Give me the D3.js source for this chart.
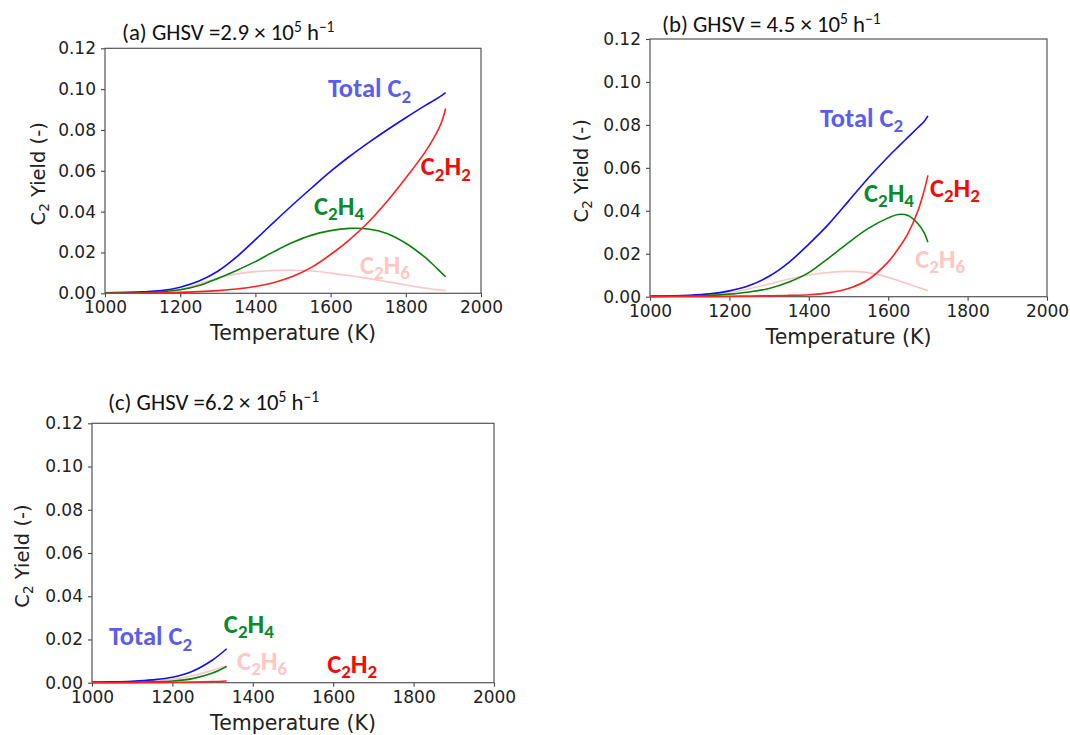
<!DOCTYPE html>
<html><head><meta charset="utf-8">
<script src="https://cdn.jsdelivr.net/npm/d3@7/dist/d3.min.js"></script>
<style>body{margin:0;background:#fff} svg{display:block}</style>
</head><body>
<svg id="chart" width="1070" height="735"></svg>
<script>
// ---------- data ----------
const xTicks = [1000, 1200, 1400, 1600, 1800, 2000];
const yTicks = [0, 0.02, 0.04, 0.06, 0.08, 0.10, 0.12];

// (a) GHSV = 2.9e5 1/h
const tempA  = [1000, 1100, 1150, 1200, 1250, 1300, 1350, 1400, 1450, 1500, 1550, 1600, 1650, 1700, 1750, 1800, 1850, 1875, 1895, 1906];
const totalA = [0.0003, 0.0007, 0.0013, 0.0030, 0.0060, 0.0108, 0.0178, 0.0263, 0.0350, 0.0435, 0.0517, 0.0597, 0.0670, 0.0737, 0.0800, 0.0860, 0.0918, 0.0945, 0.0968, 0.0983];
const c2h4A  = [0.0001, 0.0003, 0.0007, 0.0017, 0.0038, 0.0073, 0.0112, 0.0155, 0.0205, 0.0250, 0.0285, 0.0307, 0.0318, 0.0315, 0.0293, 0.0245, 0.0178, 0.0136, 0.0100, 0.0081];
const c2h2A  = [0.0000, 0.0001, 0.0002, 0.0005, 0.0008, 0.0013, 0.0021, 0.0033, 0.0053, 0.0083, 0.0128, 0.0190, 0.0262, 0.0348, 0.0450, 0.0565, 0.0688, 0.0762, 0.0838, 0.0905];
const c2h6A  = [0.0002, 0.0006, 0.0010, 0.0018, 0.0045, 0.0075, 0.0095, 0.0106, 0.0112, 0.0113, 0.0109, 0.0099, 0.0087, 0.0073, 0.0057, 0.0041, 0.0026, 0.0020, 0.0015, 0.0013];

// (b) GHSV = 4.5e5 1/h
const tempB  = [1000, 1100, 1150, 1200, 1250, 1300, 1350, 1400, 1450, 1500, 1550, 1600, 1625, 1650, 1675, 1690, 1700];
const totalB = [0.0003, 0.0007, 0.0013, 0.0027, 0.0052, 0.0095, 0.0160, 0.0245, 0.0338, 0.0445, 0.0553, 0.0652, 0.0698, 0.0743, 0.0788, 0.0815, 0.0842];
const c2h4B  = [0.0001, 0.0003, 0.0006, 0.0012, 0.0022, 0.0038, 0.0068, 0.0112, 0.0180, 0.0252, 0.0318, 0.0367, 0.0383, 0.0378, 0.0340, 0.0300, 0.0254];
const c2h2B  = [0.0000, 0.0001, 0.0001, 0.0002, 0.0003, 0.0004, 0.0006, 0.0009, 0.0018, 0.0038, 0.0080, 0.0162, 0.0222, 0.0295, 0.0400, 0.0490, 0.0565];
const c2h6B  = [0.0002, 0.0006, 0.0011, 0.0020, 0.0037, 0.0059, 0.0082, 0.0101, 0.0113, 0.0118, 0.0112, 0.0090, 0.0075, 0.0060, 0.0044, 0.0035, 0.0028];

// (c) GHSV = 6.2e5 1/h
const tempC  = [1000, 1050, 1100, 1150, 1200, 1250, 1300, 1335];
const totalC = [0.0003, 0.0004, 0.0007, 0.0013, 0.0025, 0.0053, 0.0105, 0.0157];
const c2h4C  = [0.0001, 0.0001, 0.0002, 0.0004, 0.0008, 0.0019, 0.0045, 0.0075];
const c2h2C  = [0.0000, 0.0000, 0.0000, 0.0001, 0.0002, 0.0003, 0.0005, 0.0008];
const c2h6C  = [0.0002, 0.0003, 0.0005, 0.0009, 0.0016, 0.0032, 0.0058, 0.0078];

const seriesNames = ["C2H6", "Total C2", "C2H4", "C2H2"];

// ---------- layout / style ----------
const lineColor = {"Total C2": "#1010f5", "C2H4": "#0a820a", "C2H2": "#ff2020", "C2H6": "#ffc4c4"};
const textColor = {"Total C2": "#5a5cf2", "C2H4": "#098a2c", "C2H2": "#f50a0a", "C2H6": "#ffc6c6"};
const labelParts = {
  "Total C2": [["Total C", 0], ["2", 1]],
  "C2H4": [["C", 0], ["2", 1], ["H", 0], ["4", 1]],
  "C2H2": [["C", 0], ["2", 1], ["H", 0], ["2", 1]],
  "C2H6": [["C", 0], ["2", 1], ["H", 0], ["6", 1]]
};

const panels = [
  { id: "a", mant: "(a) GHSV =2.9 × 10", left: 105, right: 481, top: 48.3, bottom: 293.3,
    titleX: 122, titleY: 40, ylabX: 38,
    temp: tempA, vals: {"Total C2": totalA, "C2H4": c2h4A, "C2H2": c2h2A, "C2H6": c2h6A},
    labels: {"Total C2": [1593, 0.0961], "C2H2": [1840, 0.0579], "C2H4": [1556, 0.0384], "C2H6": [1678, 0.0095]} },
  { id: "b", mant: "(b) GHSV = 4.5 × 10", left: 650, right: 1047, top: 39, bottom: 296.7,
    titleX: 662, titleY: 31.5, ylabX: 581,
    temp: tempB, vals: {"Total C2": totalB, "C2H4": c2h4B, "C2H2": c2h2B, "C2H6": c2h6B},
    labels: {"Total C2": [1428, 0.0792], "C2H4": [1539, 0.0442], "C2H2": [1705, 0.0466], "C2H6": [1668, 0.0134]} },
  { id: "c", mant: "(c) GHSV =6.2 × 10", left: 92, right: 494, top: 423.3, bottom: 682.7,
    titleX: 108, titleY: 410, ylabX: 22,
    temp: tempC, vals: {"Total C2": totalC, "C2H4": c2h4C, "C2H2": c2h2C, "C2H6": c2h6C},
    labels: {"Total C2": [1042, 0.0174], "C2H4": [1328, 0.0231], "C2H2": [1585, 0.0045], "C2H6": [1361, 0.0059]} }
];

const svg = d3.select("#chart");
const tickFont = "DejaVu Sans";
const labFont = "Carlito";

panels.forEach(p => {
  const x = d3.scaleLinear().domain([1000, 2000]).range([p.left, p.right]);
  const y = d3.scaleLinear().domain([0, 0.12]).range([p.bottom, p.top]);
  const g = svg.append("g").attr("class", "panel-" + p.id);

  // axes
  const xa = g.append("g").attr("transform", `translate(0,${p.bottom})`)
    .call(d3.axisBottom(x).tickValues(xTicks).tickSize(4).tickPadding(4).tickFormat(d3.format("d")));
  const ya = g.append("g").attr("transform", `translate(${p.left},0)`)
    .call(d3.axisLeft(y).tickValues(yTicks).tickSize(4).tickPadding(5).tickFormat(d3.format(".2f")));
  [xa, ya].forEach(a => {
    a.attr("font-family", null).attr("font-size", 17);
    a.selectAll("text").style("font-family", tickFont).attr("fill", "#222");
    a.selectAll("line").attr("stroke", "#444").attr("stroke-width", 1.1);
    a.select(".domain").remove();
  });
  g.append("rect").attr("x", p.left).attr("y", p.top)
    .attr("width", p.right - p.left).attr("height", p.bottom - p.top)
    .attr("fill", "none").attr("stroke", "#555").attr("stroke-width", 1.2);

  // lines
  const line = d3.line().curve(d3.curveCatmullRom.alpha(0.5));
  seriesNames.forEach(name => {
    const vals = p.vals[name];
    const pts = p.temp.map((t, i) => [x(t), y(vals[i])]);
    g.append("path").attr("d", line(pts)).attr("fill", "none")
      .attr("stroke", lineColor[name]).attr("stroke-width", 1.6);
  });

  // series labels
  Object.keys(p.labels).forEach(name => {
    const [t, v] = p.labels[name];
    const txt = g.append("text").attr("x", x(t)).attr("y", y(v))
      .style("font-family", labFont).attr("font-weight", "bold")
      .attr("font-size", 26.5).attr("fill", textColor[name]);
    let shifted = false;
    labelParts[name].forEach(([s, sub]) => {
      const ts = txt.append("tspan").text(s);
      if (sub && !shifted) { ts.attr("dy", 5.5).attr("font-size", 19); shifted = true; }
      else if (sub) { ts.attr("font-size", 19); }
      else if (!sub && shifted) { ts.attr("dy", -5.5); shifted = false; }
    });
  });

  // title
  const tt = g.append("text").attr("x", p.titleX).attr("y", p.titleY)
    .style("font-family", labFont).attr("font-size", 22.8).attr("fill", "#111");
  tt.append("tspan").text(p.mant);
  tt.append("tspan").text("5").attr("font-size", 15.5).attr("dy", -8);
  tt.append("tspan").text(" h").attr("dy", 8);
  tt.append("tspan").text("−1").attr("font-size", 15.5).attr("dy", -8);

  // x label
  g.append("text").attr("x", (p.left + p.right) / 2).attr("y", p.bottom + 47)
    .attr("text-anchor", "middle").style("font-family", tickFont).attr("font-size", 20.5)
    .attr("fill", "#222").text("Temperature (K)");

  // y label
  const cy = (p.top + p.bottom) / 2 + 3;
  const yl = g.append("text").attr("transform", `translate(${p.ylabX + 7},${cy}) rotate(-90)`)
    .attr("text-anchor", "middle").style("font-family", tickFont).attr("font-size", 19.5)
    .attr("fill", "#222");
  yl.append("tspan").text("C");
  yl.append("tspan").text("2").attr("font-size", 13.5).attr("dy", 4);
  yl.append("tspan").text(" Yield (-)").attr("dy", -4);
});
</script>
</body></html>
